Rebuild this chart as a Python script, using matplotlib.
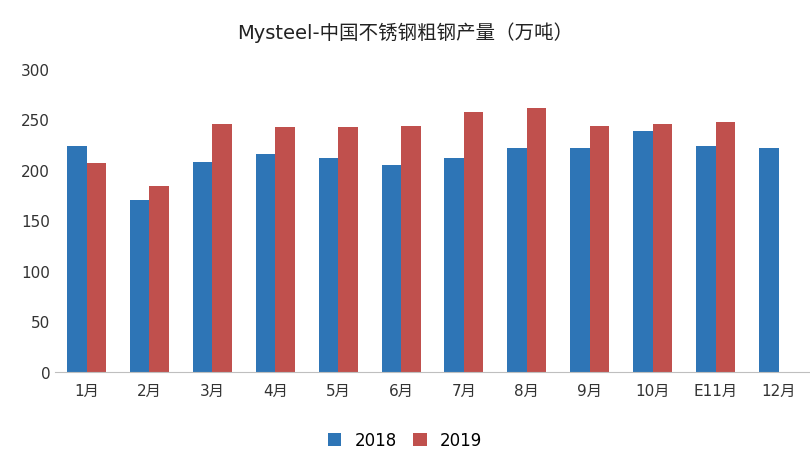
import matplotlib
matplotlib.use("Agg")
import matplotlib.pyplot as plt
from matplotlib import font_manager
import numpy as np

cjk = sorted({f.name for f in font_manager.fontManager.ttflist if "CJK" in f.name})
plt.rcParams["font.family"] = ["DejaVu Sans"] + cjk

categories = ["1月","2月","3月","4月","5月","6月","7月","8月","9月","10月","E11月","12月"]
s2018 = [224,170,208,216,212,205,212,222,222,238,224,222]
s2019 = [207,184,245,242,242,243,257,261,243,245,247,np.nan]
yticks = [0,50,100,150,200,250,300]

fig = plt.figure(figsize=(8.1,4.56), dpi=100)
ax = fig.add_axes([0.068, 0.182, 0.932, 0.665])
x = np.arange(len(categories))
w = 0.31
ax.bar(x - w/2, s2018, w, color="#2E75B6", label="2018")
ax.bar(x + w/2, s2019, w, color="#C0504D", label="2019")
ax.set_xlim(-0.5, len(categories)-0.5)
ax.set_ylim(0, 300)
ax.set_yticks(yticks)
ax.set_xticks(x)
ax.set_xticklabels(categories)
ax.tick_params(length=0, labelsize=11, colors="#333333")
ax.tick_params(axis="x", pad=8)
for s in ["top","right","left"]:
    ax.spines[s].set_visible(False)
ax.spines["bottom"].set_color("#BFBFBF")
fig.suptitle("Mysteel-中国不锈钢粗钢产量（万吨）", y=0.95, fontsize=14, color="#222222")
fig.legend(loc="lower center", ncol=2, frameon=False, fontsize=12,
           bbox_to_anchor=(0.5, -0.02), handlelength=0.8, handleheight=0.8, columnspacing=1.0)
fig.savefig("out.png")
